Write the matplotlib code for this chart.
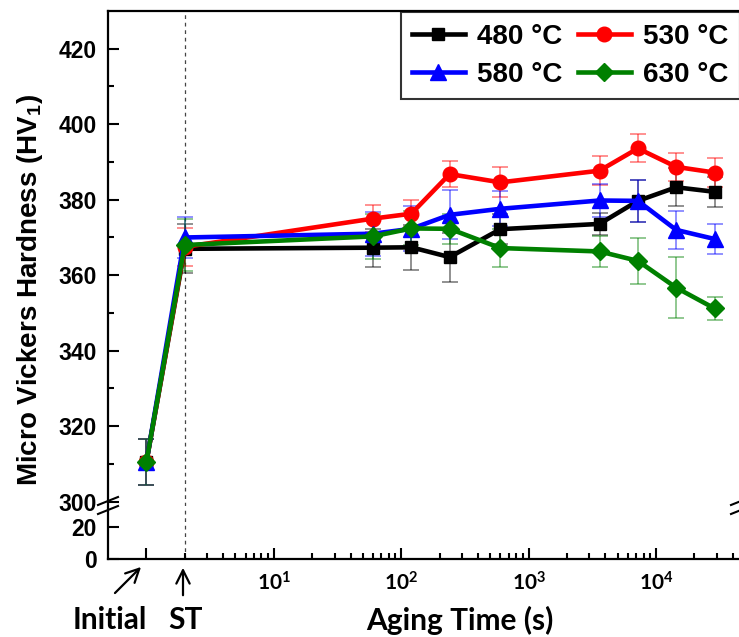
import numpy as np
import matplotlib
matplotlib.use('Agg')
import matplotlib.pyplot as plt
from matplotlib.ticker import FixedLocator, NullFormatter

# ---- data ----
# x positions: Initial = 1, ST = 2, then aging times in seconds
times = [1, 2, 60, 120, 240, 600, 3600, 7200, 14400, 28800]

hv_480 = [310.5, 367.0, 367.3, 367.4, 364.8, 372.2, 373.6, 379.7, 383.3, 382.1]
err_480 = [6.0, 6.5, 5.0, 6.0, 6.5, 4.0, 3.0, 5.5, 5.0, 4.0]

hv_530 = [310.5, 367.5, 375.0, 376.3, 386.8, 384.6, 387.7, 393.6, 388.7, 387.2]
err_530 = [6.0, 5.0, 3.6, 3.5, 3.5, 4.0, 3.9, 3.7, 3.7, 3.8]

hv_580 = [310.5, 370.0, 371.0, 372.3, 376.0, 377.6, 379.8, 379.7, 372.0, 369.6]
err_580 = [6.0, 5.5, 5.8, 6.0, 6.5, 4.6, 4.5, 5.5, 5.0, 3.9]

hv_630 = [310.5, 368.0, 370.3, 372.4, 372.3, 367.2, 366.3, 363.8, 356.7, 351.2]
err_630 = [6.0, 7.0, 6.0, 4.5, 4.0, 5.0, 4.0, 6.0, 8.0, 3.1]

labels = ['480 °C', '530 °C', '580 °C', '630 °C']
colors = ['black', 'red', 'blue', 'green']
markers = ['s', 'o', '^', 'D']
msizes = [9, 10.5, 11, 9]

W, H = 739, 637


def fx(px):
    return px / W


def fy(py):
    return 1 - py / H


ARIAL = 'Liberation Sans'
plt.rcParams['font.family'] = ARIAL
plt.rcParams['font.weight'] = 'bold'
plt.rcParams['mathtext.fontset'] = 'custom'
plt.rcParams['mathtext.rm'] = 'Liberation Sans:bold'
plt.rcParams['mathtext.bf'] = 'Liberation Sans:bold'
plt.rcParams['mathtext.sf'] = 'Lato:bold'

fig = plt.figure(figsize=(W / 100, H / 100), dpi=100)

left, right = 108, 741
top_u, bot_u = 11, 505.5
top_l, bot_l = 507.8, 559
ax = fig.add_axes([fx(left), fy(bot_u), fx(right - left), fy(top_u) - fy(bot_u)])
axl = fig.add_axes([fx(left), fy(bot_l), fx(right - left), fy(top_l) - fy(bot_l)])

series = [(hv_480, err_480), (hv_530, err_530), (hv_580, err_580), (hv_630, err_630)]
handles = []
for (vals, errs), lab, c, m, ms in zip(series, labels, colors, markers, msizes):
    ax.errorbar(times, vals, yerr=errs, fmt='none', ecolor=c, elinewidth=1.1,
                capsize=6, capthick=1.1, alpha=0.55, zorder=2)
    h, = ax.plot(times, vals, color=c, marker=m, markersize=ms, linewidth=3.3,
                 label=lab, zorder=3)
    handles.append(h)

for a in (ax, axl):
    a.set_xscale('log')
    a.set_xlim(0.5, 46400)
    a.axvline(2, color='#444444', linestyle=(0, (3, 3)), linewidth=0.9, zorder=1)
    a.spines['right'].set_visible(False)
    for s in a.spines.values():
        s.set_linewidth(1.6)
    a.tick_params(axis='both', which='both', direction='in', width=1.5)
    a.tick_params(axis='both', which='major', length=8)
    a.tick_params(axis='both', which='minor', length=4.5)

# upper axes
ax.set_ylim(299, 430)
ax.spines['bottom'].set_visible(False)
ax.set_yticks([300, 320, 340, 360, 380, 400, 420])
ax.yaxis.set_minor_locator(FixedLocator([310, 330, 350, 370, 390, 410]))
ax.tick_params(axis='y', labelsize=16.5, pad=8)
ax.tick_params(axis='x', which='both', bottom=False, labelbottom=False)

# lower axes
axl.set_ylim(0, 32)
axl.spines['top'].set_visible(False)
axl.set_yticks([0, 20])
axl.yaxis.set_minor_locator(FixedLocator([]))
axl.tick_params(axis='y', labelsize=16.5, pad=8)
major_x = [1, 10, 100, 1000, 10000]
minor_x = [k * 10 ** n for n in range(0, 5) for k in range(2, 10)]
axl.xaxis.set_major_locator(FixedLocator(major_x))
axl.xaxis.set_minor_locator(FixedLocator(minor_x))
axl.xaxis.set_minor_formatter(NullFormatter())
axl.set_xticklabels(['', r'$\mathsf{10^{1}}$', r'$\mathsf{10^{2}}$',
                     r'$\mathsf{10^{3}}$', r'$\mathsf{10^{4}}$'])
axl.tick_params(axis='x', labelsize=15, pad=9)

# axis break marks
for xb in (left, right):
    for yb in (501, 510):
        fig.add_artist(plt.Line2D([fx(xb - 10), fx(xb + 10)], [fy(yb + 4), fy(yb - 4)],
                                  color='black', linewidth=1.5))

# legend filled row by row: 480, 530 / 580, 630
order = [0, 2, 1, 3]
leg = ax.legend([handles[i] for i in order], [labels[i] for i in order],
                loc='upper right', ncol=2, fontsize=20, frameon=True,
                fancybox=False, edgecolor='black', borderaxespad=0.05,
                handlelength=1.9, handletextpad=0.45, columnspacing=0.55,
                labelspacing=0.45, borderpad=0.4)
leg.get_frame().set_linewidth(1.5)

fig.text(fx(30), fy(290), 'Micro Vickers Hardness (HV$_1$)', rotation=90,
         ha='center', va='center', fontsize=20, fontweight='bold', family=ARIAL)

fig.text(fx(460), fy(620), 'Aging Time (s)', ha='center', va='center',
         fontsize=21.5, fontweight='bold', family='Lato')
fig.text(fx(110), fy(620), 'Initial', ha='center', va='center',
         fontsize=21.5, fontweight='bold', family='Lato')
fig.text(fx(185), fy(620), 'ST', ha='center', va='center',
         fontsize=21.5, fontweight='bold', family='Lato')

fig.add_artist(matplotlib.patches.FancyArrowPatch(
    (fx(113), fy(595)), (fx(143), fy(565)), transform=fig.transFigure,
    arrowstyle='->', mutation_scale=24, linewidth=1.6, color='black'))
fig.add_artist(matplotlib.patches.FancyArrowPatch(
    (fx(183), fy(598)), (fx(183), fy(565)), transform=fig.transFigure,
    arrowstyle='->', mutation_scale=24, linewidth=1.6, color='black'))

fig.savefig('out.png', dpi=100)
